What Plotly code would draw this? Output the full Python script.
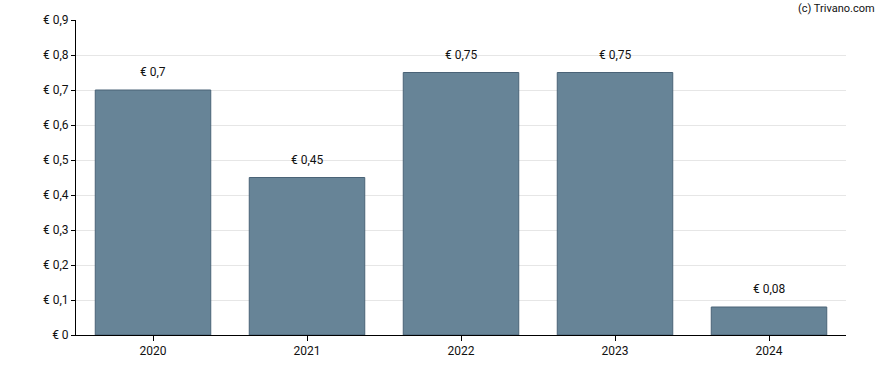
import plotly.graph_objects as go

years = [2020, 2021, 2022, 2023, 2024]
dividends = [0.7, 0.45, 0.75, 0.75, 0.08]
labels = ["€ 0,7", "€ 0,45", "€ 0,75", "€ 0,75", "€ 0,08"]
y_ticks = [0, 0.1, 0.2, 0.3, 0.4, 0.5, 0.6, 0.7, 0.8, 0.9]
y_tick_labels = ["€ 0", "€ 0,1", "€ 0,2", "€ 0,3", "€ 0,4", "€ 0,5", "€ 0,6", "€ 0,7", "€ 0,8", "€ 0,9"]

fig = go.Figure()
fig.add_trace(go.Bar(
    x=years, y=dividends,
    marker=dict(color="#678497", line=dict(color="#4a6377", width=1)),
    width=0.75,
    hoverinfo="skip",
))

for x, y, t in zip(years, dividends, labels):
    fig.add_annotation(x=x, y=y, text=t, showarrow=False, yanchor="bottom",
                       yshift=9, font=dict(family="Roboto, Arial", size=12, color="#111"))

fig.add_annotation(xref="paper", yref="paper", x=1.0, y=1.0, xanchor="right", yanchor="bottom",
                   xshift=31, yshift=3,
                   text="(c) Trivano.com", showarrow=False,
                   font=dict(family="Roboto, Arial", size=11, color="#111"))

fig.update_layout(
    width=888, height=370,
    margin=dict(l=76, r=42, t=20, b=35, autoexpand=False),
    plot_bgcolor="white", paper_bgcolor="white",
    showlegend=False,
    font=dict(family="Roboto, Arial", size=12, color="#111"),
    xaxis=dict(type="linear", range=[2019.5, 2024.5], tickvals=years,
               ticktext=[str(y) for y in years],
               showline=True, linecolor="black", linewidth=1, ticks="outside",
               ticklen=5, tickcolor="black", showgrid=False, zeroline=False,
               automargin=False, tickfont=dict(size=12)),
    yaxis=dict(range=[0, 0.9], tickvals=y_ticks, ticktext=y_tick_labels,
               showline=True, linecolor="black", linewidth=1, ticks="outside",
               ticklen=4, tickcolor="black", showgrid=True, gridcolor="#e6e6e6",
               zeroline=False, automargin=False, tickfont=dict(size=12)),
)

fig.write_html("out.html", config={"displayModeBar": False},
               post_script="document.body.style.margin='0';")
